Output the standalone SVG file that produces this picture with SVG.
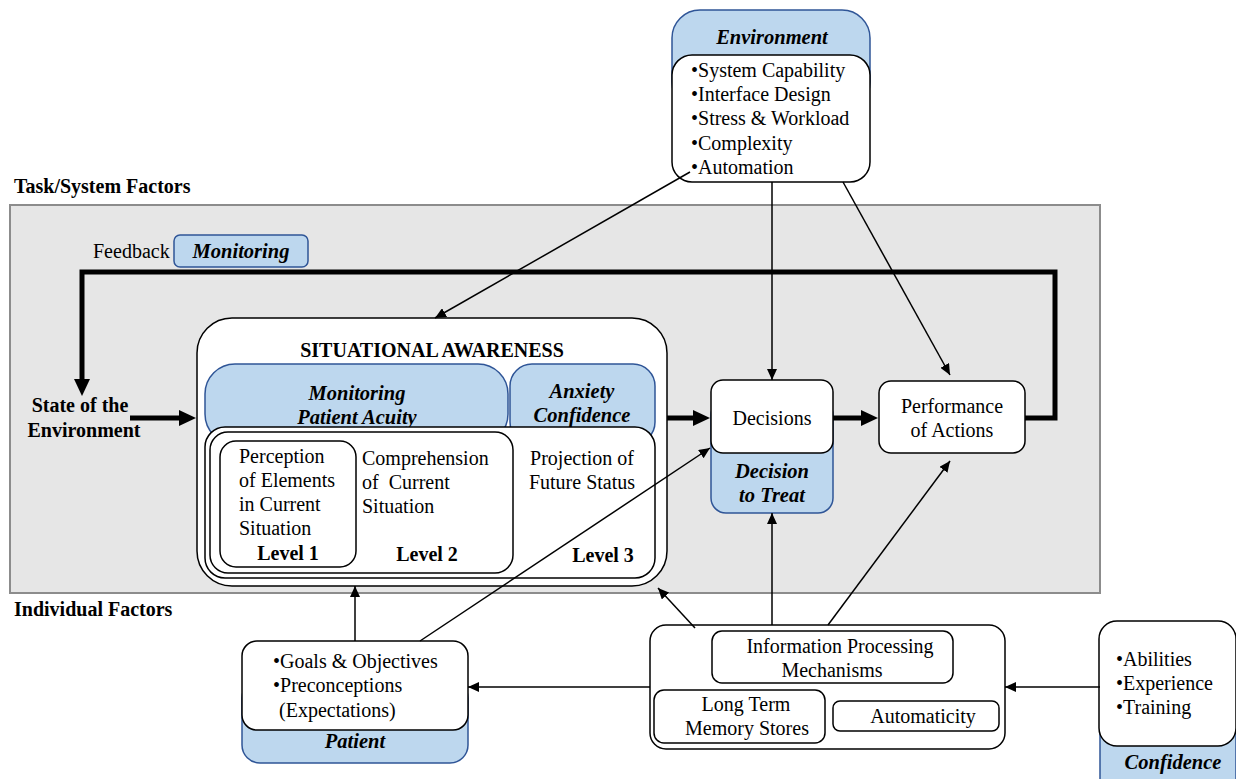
<svg xmlns="http://www.w3.org/2000/svg" width="1236" height="779" viewBox="0 0 1236 779">
<defs>
<marker id="ah" markerUnits="userSpaceOnUse" markerWidth="12" markerHeight="10" refX="11" refY="5" orient="auto"><path d="M0,0 L11,5 L0,10 z" fill="#000"/></marker>
<marker id="ahb" markerUnits="userSpaceOnUse" markerWidth="18" markerHeight="16" refX="2" refY="8" orient="auto"><path d="M0,0 L17,8 L0,16 z" fill="#000"/></marker>
<style>
text{font-family:"Liberation Serif","Times New Roman",serif;fill:#000}
.t{font-size:20px}
.b{font-size:20px;font-weight:bold}
.bi{font-size:20.5px;font-weight:bold;font-style:italic}
.c{text-anchor:middle}
.w{fill:#fff;stroke:#000;stroke-width:1.5}
.bl{fill:#bdd7ee;stroke:#2f5597;stroke-width:1.5}
.thin{fill:none;stroke:#000;stroke-width:1.5;marker-end:url(#ah)}
.thick{fill:none;stroke:#000;stroke-width:5;marker-end:url(#ahb)}
</style>
</defs>
<rect width="1236" height="779" fill="#fff"/>
<g id="task-system-region">
<rect x="10" y="205" width="1090" height="388" fill="#e6e6e6" stroke="#8c8c8c" stroke-width="2"/>
<text x="14" y="193" class="b">Task/System Factors</text>
<text x="14" y="616" class="b">Individual Factors</text>
</g>
<g id="feedback-label">
<text x="93" y="258" class="t">Feedback</text>
<rect x="174" y="235" width="134" height="32" rx="6" class="bl"/>
<text x="241" y="258" class="bi c">Monitoring</text>
</g>
<g id="state-env">
<text x="80" y="412" class="b c">State of the</text>
<text x="84" y="437" class="b c">Environment</text>
</g>
<g id="environment">
<rect x="672" y="10" width="198" height="100" rx="28" class="bl"/>
<text x="772" y="44" class="bi c">Environment</text>
<rect x="672" y="55" width="198" height="127" rx="20" class="w"/>
<text x="691" y="77" class="t">•System Capability</text>
<text x="691" y="101" class="t">•Interface Design</text>
<text x="691" y="125" class="t">•Stress &amp; Workload</text>
<text x="691" y="150" class="t">•Complexity</text>
<text x="691" y="174" class="t">•Automation</text>
</g>
<g id="situational-awareness">
<rect x="197" y="318" width="470" height="268" rx="35" class="w"/>
<text x="432" y="357" class="b c">SITUATIONAL AWARENESS</text>
<rect x="205" y="364" width="303" height="80" rx="30" class="bl"/>
<text x="357" y="400" class="bi c">Monitoring</text>
<text x="357" y="424" class="bi c">Patient Acuity</text>
<rect x="510" y="364" width="145" height="80" rx="22" class="bl"/>
<text x="582" y="398" class="bi c">Anxiety</text>
<text x="582" y="422" class="bi c">Confidence</text>
<rect x="205" y="427" width="450" height="151" rx="20" class="w"/>
<rect x="210" y="432" width="303" height="141" rx="18" class="w"/>
<rect x="220" y="441" width="136" height="126" rx="16" class="w"/>
<text x="239" y="463" class="t">Perception</text>
<text x="239" y="487" class="t">of Elements</text>
<text x="239" y="511" class="t">in Current</text>
<text x="239" y="535" class="t">Situation</text>
<text x="288" y="560" class="b c">Level 1</text>
<text x="362" y="465" class="t">Comprehension</text>
<text x="362" y="489" class="t" xml:space="preserve">of  Current</text>
<text x="362" y="513" class="t">Situation</text>
<text x="427" y="561" class="b c">Level 2</text>
<text x="582" y="465" class="t c">Projection of</text>
<text x="582" y="489" class="t c">Future Status</text>
<text x="603" y="562" class="b c">Level 3</text>
</g>
<g id="decisions">
<rect x="711" y="400" width="122" height="113" rx="15" class="bl"/>
<rect x="711" y="380" width="122" height="73" rx="12" class="w"/>
<text x="772" y="425" class="t c">Decisions</text>
<text x="772" y="478" class="bi c">Decision</text>
<text x="772" y="502" class="bi c">to Treat</text>
</g>
<g id="performance">
<rect x="879" y="381" width="146" height="72" rx="12" class="w"/>
<text x="952" y="413" class="t c">Performance</text>
<text x="952" y="437" class="t c">of Actions</text>
</g>
<g id="patient">
<rect x="242" y="680" width="226" height="83" rx="18" class="bl"/>
<rect x="242" y="641" width="226" height="89" rx="15" class="w"/>
<text x="273" y="668" class="t">•Goals &amp; Objectives</text>
<text x="273" y="692" class="t">•Preconceptions</text>
<text x="279" y="717" class="t">(Expectations)</text>
<text x="355" y="748" class="bi c">Patient</text>
</g>
<g id="info-processing">
<rect x="650" y="625" width="355" height="124" rx="16" class="w"/>
<rect x="712" y="631" width="241" height="52" rx="10" class="w"/>
<text x="840" y="653" class="t c">Information Processing</text>
<text x="832" y="677" class="t c">Mechanisms</text>
<rect x="654" y="690" width="171" height="53" rx="10" class="w"/>
<text x="746" y="711" class="t c">Long Term</text>
<text x="747" y="735" class="t c">Memory Stores</text>
<rect x="833" y="701" width="166" height="30" rx="7" class="w"/>
<text x="923" y="723" class="t c">Automaticity</text>
</g>
<g id="confidence">
<rect x="1100" y="700" width="136" height="100" rx="16" class="bl"/>
<text x="1173" y="769" class="bi c">Confidence</text>
<rect x="1099" y="621" width="137" height="125" rx="18" class="w"/>
<text x="1116" y="666" class="t">•Abilities</text>
<text x="1116" y="690" class="t">•Experience</text>
<text x="1116" y="714" class="t">•Training</text>
</g>
<g id="connectors">
<path class="thick" d="M1025,418 H1055 V272 H82 V381"/>
<path class="thick" d="M130,418 H181"/>
<path class="thick" d="M667,418 H695"/>
<path class="thick" d="M833,418 H863"/>
<path class="thin" d="M690,172 L435,318"/>
<path class="thin" d="M772,182 V380"/>
<path class="thin" d="M843,182 L950,375"/>
<path class="thin" d="M355,641 V586"/>
<path class="thin" d="M420,641 L710,448"/>
<path class="thin" d="M695,628 L658,588"/>
<path class="thin" d="M772,625 V513"/>
<path class="thin" d="M828,625 L950,461"/>
<path class="thin" d="M650,687 H468"/>
<path class="thin" d="M1100,687 H1005"/>
</g>
</svg>
